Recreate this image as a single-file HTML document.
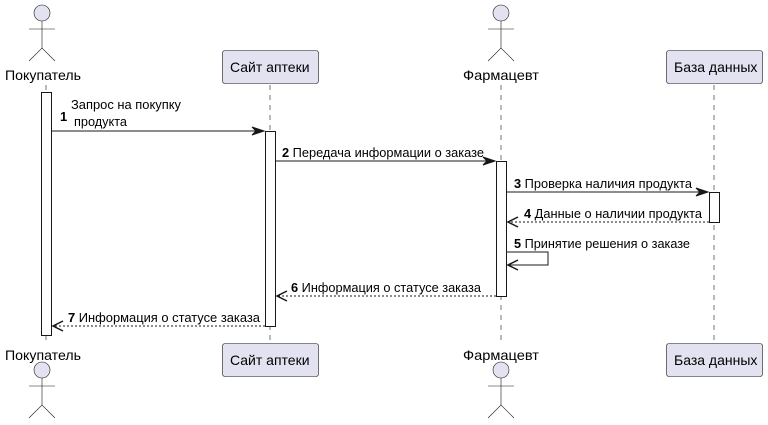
<!DOCTYPE html>
<html><head><meta charset="utf-8"><style>
html,body{margin:0;padding:0;background:#fff;}
svg{display:block;}
text{font-family:"Liberation Sans","DejaVu Sans",sans-serif;fill:#000;}
</style></head><body>
<svg width="768" height="425" viewBox="0 0 768 425" xmlns="http://www.w3.org/2000/svg">
<g stroke="#181818" stroke-width="0.6" stroke-dasharray="5,5">
<line x1="46" y1="85" x2="46" y2="345"/>
<line x1="270" y1="85" x2="270" y2="343"/>
<line x1="501" y1="85" x2="501" y2="345"/>
<line x1="714" y1="85" x2="714" y2="343"/>
</g>
<g fill="#E2E2F0" stroke="#181818" stroke-width="0.6">
<circle cx="42" cy="13" r="8"/>
<circle cx="42" cy="370" r="8"/>
<circle cx="501" cy="13" r="8"/>
<circle cx="501" cy="370" r="8"/>
</g>
<g stroke="#181818" stroke-width="0.6" fill="none">
<path d="M42 21V48M29 29H55M29 61L42 48L55 61"/>
<path d="M42 378V405M29 386H55M29 418L42 405L55 418"/>
<path d="M501 21V48M488 29H514M488 61L501 48L514 61"/>
<path d="M501 378V405M488 386H514M488 418L501 405L514 418"/>
</g>
<g font-size="14">
<text x="5" y="80" textLength="76" lengthAdjust="spacingAndGlyphs">Покупатель</text>
<text x="5" y="360" textLength="76" lengthAdjust="spacingAndGlyphs">Покупатель</text>
<text x="463" y="80" textLength="76" lengthAdjust="spacingAndGlyphs">Фармацевт</text>
<text x="463" y="360" textLength="76" lengthAdjust="spacingAndGlyphs">Фармацевт</text>
</g>
<g fill="#E2E2F0" stroke="#181818" stroke-width="0.6">
<rect x="222.5" y="50.5" width="96" height="33" rx="2.5"/>
<rect x="222.5" y="343.5" width="96" height="33" rx="2.5"/>
<rect x="666.5" y="50.5" width="96" height="33" rx="2.5"/>
<rect x="666.5" y="343.5" width="96" height="33" rx="2.5"/>
</g>
<g font-size="14">
<text x="230" y="72">Сайт аптеки</text>
<text x="230" y="365">Сайт аптеки</text>
<text x="674" y="72">База данных</text>
<text x="674" y="365">База данных</text>
</g>
<g fill="#fff" stroke="#181818" stroke-width="1">
<rect x="41.5" y="92.5" width="10" height="243"/>
<rect x="265.5" y="131.5" width="10" height="195"/>
<rect x="496.5" y="161.5" width="10" height="135"/>
<rect x="709.5" y="192.5" width="10" height="30"/>
</g>
<g stroke="#181818" stroke-width="1" fill="none">
<line x1="52" y1="131" x2="263" y2="131"/>
<line x1="276" y1="161" x2="494" y2="161"/>
<line x1="507" y1="192" x2="707" y2="192"/>
<line x1="709" y1="222" x2="508" y2="222" stroke-dasharray="2,2"/>
<path d="M507 252H548V265H508"/>
<line x1="496" y1="296" x2="277" y2="296" stroke-dasharray="2,2"/>
<line x1="265" y1="326" x2="53" y2="326" stroke-dasharray="2,2"/>
</g>
<g fill="#181818" stroke="#181818" stroke-width="1">
<path d="M264 131L252 127L256 131L252 135Z"/>
<path d="M495 161L483 157L487 161L483 165Z"/>
<path d="M708 192L696 188L700 192L696 196Z"/>
</g>
<g fill="none" stroke="#181818" stroke-width="1.5">
<path d="M518 217L508 222L518 227"/>
<path d="M518 260L508 265L518 270"/>
<path d="M287 291L277 296L287 301"/>
<path d="M63 321L53 326L63 331"/>
</g>
<g font-size="12.5">
<text x="60" y="121" font-weight="bold" font-size="13">1</text>
<text x="71" y="109" textLength="110" lengthAdjust="spacingAndGlyphs">Запрос на покупку</text>
<text x="74" y="126" textLength="53" lengthAdjust="spacingAndGlyphs">продукта</text>
<text x="282" y="157" textLength="202" lengthAdjust="spacingAndGlyphs"><tspan font-weight="bold">2</tspan> Передача информации о заказе</text>
<text x="514" y="188" textLength="178" lengthAdjust="spacingAndGlyphs"><tspan font-weight="bold">3</tspan> Проверка наличия продукта</text>
<text x="524" y="218" textLength="178" lengthAdjust="spacingAndGlyphs"><tspan font-weight="bold">4</tspan> Данные о наличии продукта</text>
<text x="514" y="248" textLength="176" lengthAdjust="spacingAndGlyphs"><tspan font-weight="bold">5</tspan> Принятие решения о заказе</text>
<text x="291" y="292" textLength="190" lengthAdjust="spacingAndGlyphs"><tspan font-weight="bold">6</tspan> Информация о статусе заказа</text>
<text x="68" y="322" textLength="192" lengthAdjust="spacingAndGlyphs"><tspan font-weight="bold">7</tspan> Информация о статусе заказа</text>
</g>
</svg>
</body></html>
